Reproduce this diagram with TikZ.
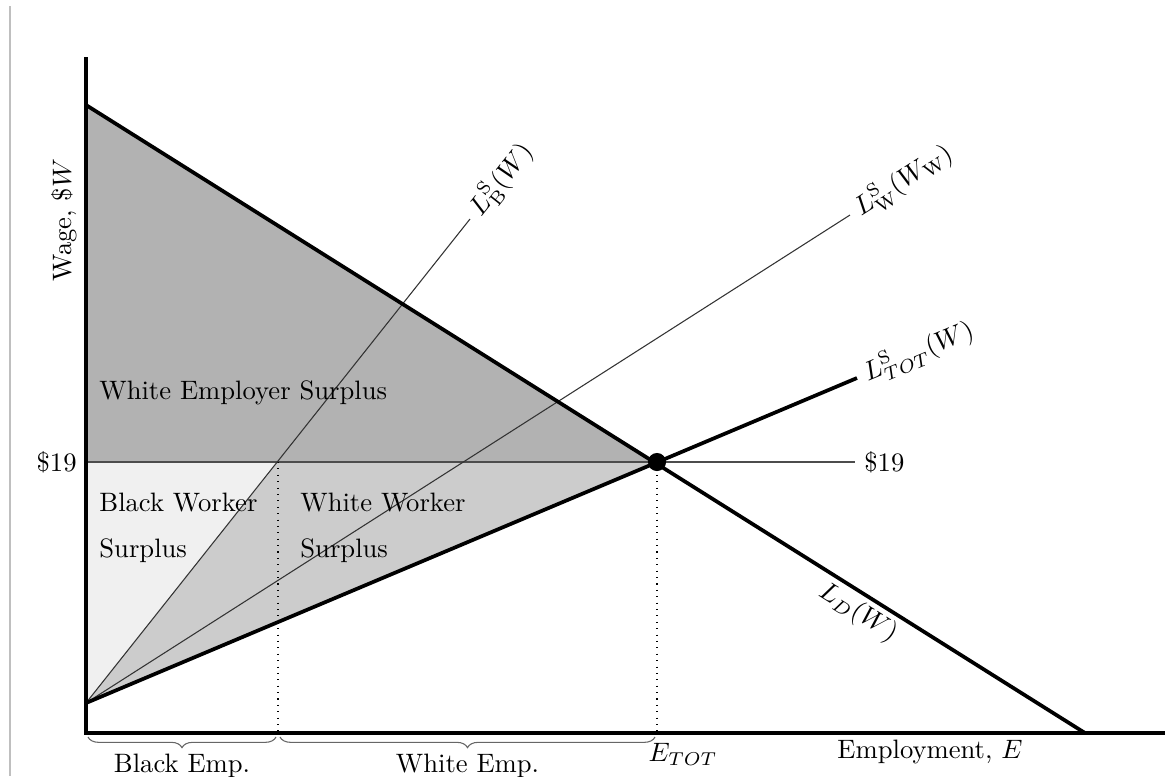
\documentclass[tikz,border=0pt]{standalone}
\usepackage{amsmath}
\usepackage{amssymb}
\usepackage{xcolor}
\usepackage{tikz}
\usetikzlibrary{decorations.pathreplacing}

\begin{document}
\begin{tikzpicture}[x=0.0132cm, y=-0.0132cm]
\def\hw{1.4pt} % heavy line width
\def\lw{0.4pt} % light line width

\useasboundingbox (0,0) rectangle (1171,776);

% page edge line on the left
\draw[black!25, line width=0.6pt] (10,6) -- (10,776);

% Key points
\coordinate (O) at (86,733);     % origin
\coordinate (Ytop) at (86,57);   % top of wage axis
\coordinate (Xend) at (1165,733); % end of employment axis
\coordinate (S0) at (86,703);    % supply intercept
\coordinate (D0) at (86,105);    % demand intercept
\coordinate (D1) at (1085,733);  % demand meets axis
\coordinate (E) at (657,462);    % equilibrium
\coordinate (W0) at (86,462);    % $19 on wage axis
\coordinate (W1) at (855,462);   % $19 line end
\coordinate (B19) at (278,462);  % black supply at $19
\coordinate (BEnd) at (470,219);
\coordinate (WEnd) at (850,215);
\coordinate (TEnd) at (857,378);
\coordinate (Bx) at (278,733);
\coordinate (Ex) at (657,733);

% Surplus areas
\fill[black!30] (D0) -- (E) -- (W0) -- cycle;
\fill[black!6] (W0) -- (B19) -- (S0) -- cycle;
\fill[black!20] (S0) -- (B19) -- (E) -- cycle;

% $19 line
\draw[line width=\lw, black!70] (W0) -- (W1) node[anchor=west, black] (w19r) {\$19};
\node[anchor=east] (w19l) at (W0) {\$19};

% Dotted drops
\draw[line width=\lw, dotted] (B19) -- (Bx);
\draw[line width=\lw, dotted] (E) -- (Ex);

% Supply curves
\draw[line width=\lw, black!80] (S0) -- (BEnd);
\node[rotate=51.5, anchor=west, inner sep=3pt] (lbs) at (BEnd) {$L^{\mathrm{S}}_{\mathrm{B}}(W)$};
\draw[line width=\lw, black!80] (S0) -- (WEnd);
\node[rotate=32.6, anchor=west, inner sep=3pt] (lws) at (WEnd) {$L^{\mathrm{S}}_{\mathrm{W}}(W_{\mathrm{W}})$};
\draw[line width=\hw] (S0) -- (TEnd);
\node[rotate=22.7, anchor=west, inner sep=3pt] (lts) at (TEnd) {$L^{\mathrm{S}}_{TOT}(W)$};

% Demand curve
\draw[line width=\hw] (D0) -- (D1);
\node[rotate=-32.2] (ld) at (858,613) {$L_D(W)$};

% Axes
\draw[line width=1.6pt] (Ytop) -- (O) -- (Xend);

% Equilibrium
\fill (E) circle (3.4pt);

% Area labels
\node[anchor=west] (emp) at (90,393) {White Employer Surplus};
\node[anchor=north west, align=left] (bws) at (90,484) {Black Worker\\[5pt]Surplus};
\node[anchor=north west, align=left] (wws) at (291,484) {White Worker\\[5pt]Surplus};

% Axis labels
\node[rotate=90] (ylab) at (64,220) {Wage, \$$W$};
\node (xlab) at (930,752) {Employment, $E$};

% Braces under the axis
\draw[black!60, decorate, decoration={brace, mirror, amplitude=4pt}]
  (88,737) -- (276,737) node[midway, below=3pt, black] (bemp) {Black Emp.};
\draw[black!60, decorate, decoration={brace, mirror, amplitude=4pt}]
  (280,737) -- (655,737) node[midway, below=3pt, black] (wemp) {White Emp.};
\node (etot) at (683,754) {$E_{TOT}$};

\end{tikzpicture}
\end{document}
